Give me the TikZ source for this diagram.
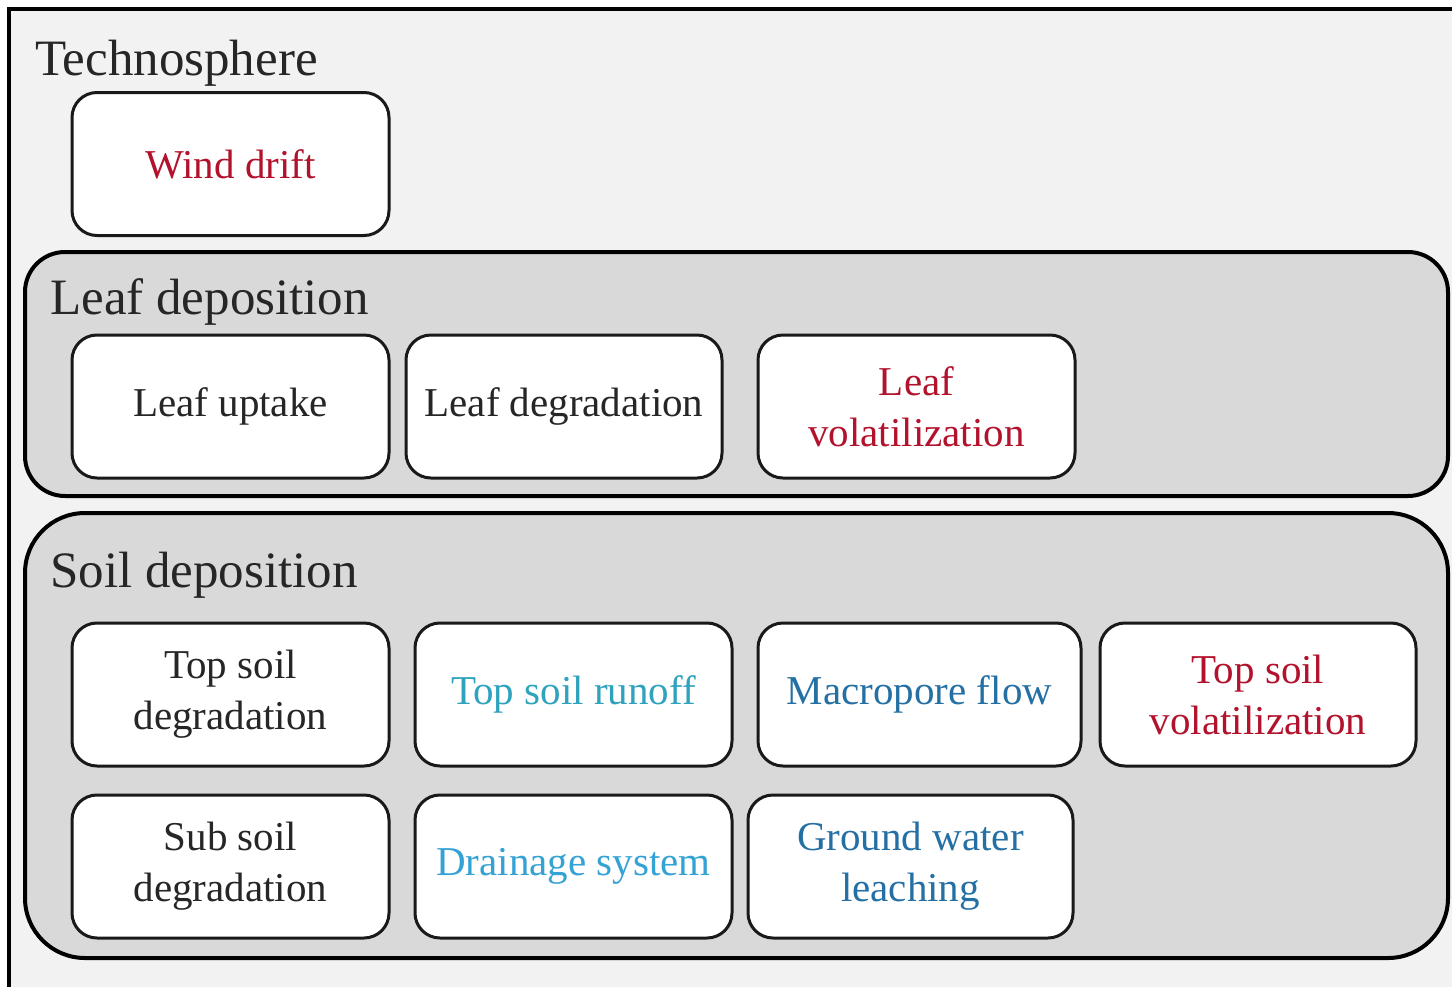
\documentclass[tikz,border=0pt]{standalone}
\usepackage{fontspec}
\setmainfont{LiberationSerif}[Extension=.ttf, UprightFont=*-Regular, BoldFont=*-Bold, ItalicFont=*-Italic, BoldItalicFont=*-BoldItalic]
\usetikzlibrary{positioning}
\definecolor{framebg}{HTML}{F2F2F2}
\definecolor{groupbg}{HTML}{D9D9D9}
\definecolor{lossred}{HTML}{B2122C}
\definecolor{runoffcyan}{HTML}{2FA2BE}
\definecolor{drainblue}{HTML}{35A2D6}
\definecolor{flowblue}{HTML}{2470A4}
\tikzset{
  grouptitle/.style={anchor=base west, inner sep=0pt, font=\rmfamily\fontsize{51}{60}\selectfont, text=black!85},
  groupbox/.style={draw=black, line width=4pt, fill=groupbg},
  procbox/.style={draw=black!90, line width=3pt, fill=white, rounded corners=25pt,
    minimum height=143pt, align=center, inner sep=0pt,
    font=\rmfamily\fontsize{41}{51}\selectfont, text=black!85},
  lost/.style={text=lossred},
}
\begin{document}
\begin{tikzpicture}[x=1pt,y=-1pt]
  \useasboundingbox (0,0) rectangle (1452,986);
  % outer frame, running off the right and lower edges
  \begin{scope}
    \clip (0,0) rectangle (1452,986);
    \draw[line width=4pt, fill=framebg] (9,9) rectangle (1470,1000);
  \end{scope}
  \node[grouptitle] (techno) at (35,75) {Technosphere};
  \node[procbox, lost, minimum width=317pt] (wind) at (230.5,164) {Wind drift};

  % leaf deposition group
  \draw[groupbox, rounded corners=40pt] (25,252) rectangle (1448,496);
  \node[grouptitle] (leaf) at (50,314) {Leaf deposition};
  \node[procbox, minimum width=317pt] (lu) at (230.5,406.5) {Leaf uptake};
  \node[procbox, minimum width=316pt] (ld) at (564,406.5) {Leaf degradation};
  \node[procbox, lost, minimum width=317pt] (lv) at (916.5,406.5) {Leaf\\volatilization};

  % soil deposition group
  \draw[groupbox, rounded corners=60pt] (25,513) rectangle (1448,958);
  \node[grouptitle] (soil) at (50,587) {Soil deposition};
  \node[procbox, minimum width=317pt] (tsd) at (230.5,694.5) {Top soil\\degradation};
  \node[procbox, text=runoffcyan, minimum width=317pt] (tsr) at (573.5,694.5) {Top soil runoff};
  \node[procbox, text=flowblue, minimum width=323pt] (mf) at (919.5,694.5) {Macropore flow};
  \node[procbox, lost, minimum width=316pt] (tsv) at (1258,694.5) {Top soil\\volatilization};
  \node[procbox, minimum width=317pt] (ssd) at (230.5,866.5) {Sub soil\\degradation};
  \node[procbox, text=drainblue, minimum width=317pt] (ds) at (573.5,866.5) {Drainage system};
  \node[procbox, text=flowblue, minimum width=325pt] (gwl) at (910.5,866.5) {Ground water\\leaching};
\end{tikzpicture}
\end{document}
